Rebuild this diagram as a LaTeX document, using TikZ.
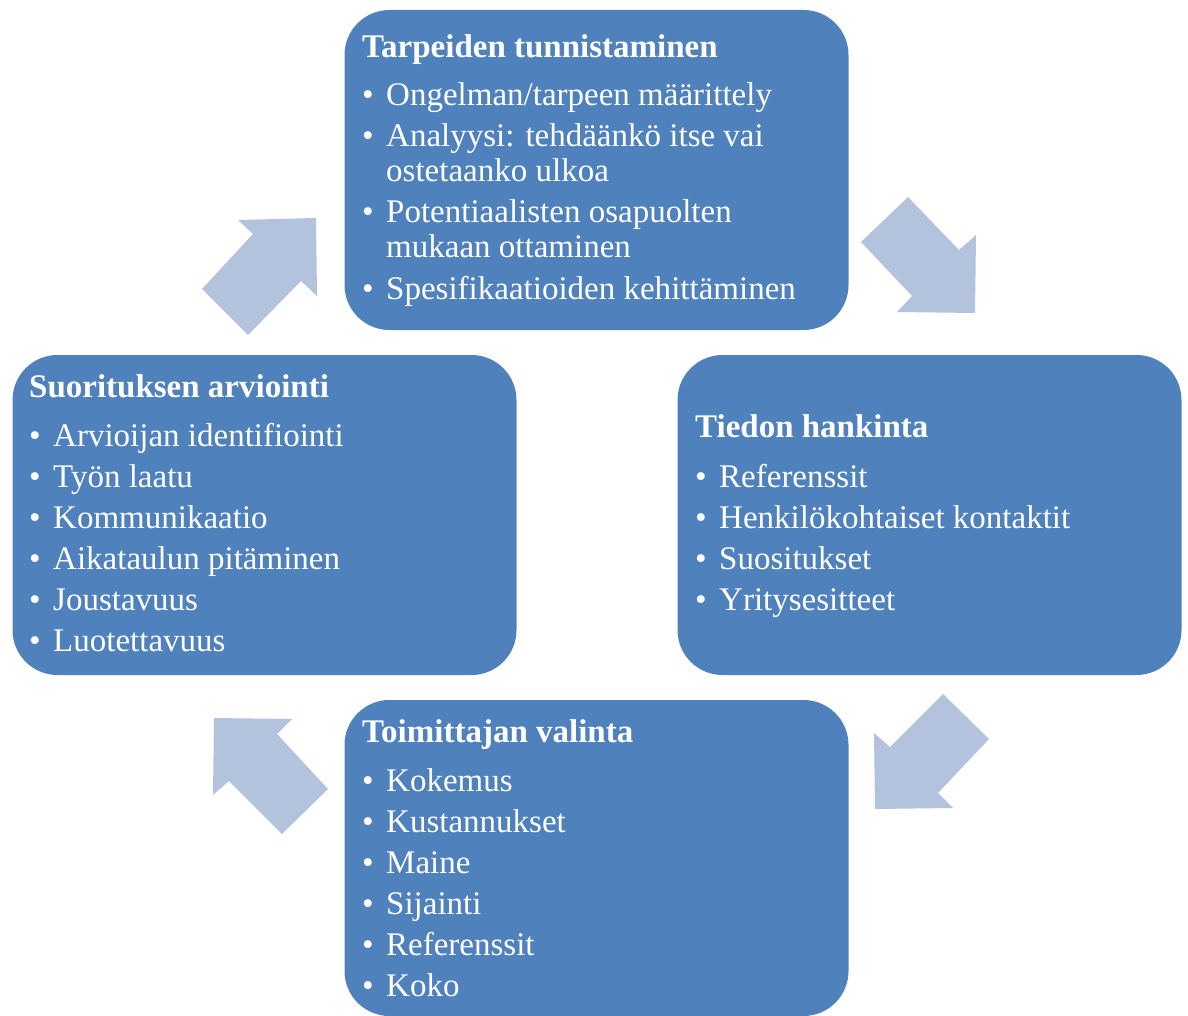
\documentclass[tikz,border=0pt]{standalone}
\usepackage{fontspec}
\setmainfont{Liberation Serif}
\definecolor{boxblue}{RGB}{79,129,189}
\definecolor{arrowblue}{RGB}{179,195,222}
\tikzset{
  stagebox/.style={rectangle, rounded corners=45pt, fill=boxblue, draw=none,
    minimum width=504pt, minimum height=320pt, inner sep=0pt},
  heading/.style={anchor=base west, inner sep=0pt, text=white,
    font=\fontsize{33}{40}\selectfont\bfseries},
  entry/.style={anchor=base west, inner sep=0pt, text=white,
    font=\fontsize{33}{40}\selectfont},
  cyclearrow/.style={fill=arrowblue, draw=none}
}
% bullet item and continuation line
\newcommand\bul[1]{\makebox[24pt][l]{\textbullet}#1}
\newcommand\cont[1]{\hspace*{24pt}#1}
\begin{document}
\begin{tikzpicture}[x=1pt, y=-1pt]
\useasboundingbox (0,0) rectangle (1188,1016);

% stage boxes
\node[stagebox] (need)   at (596.5,170) {};
\node[stagebox] (info)   at (929.5,515) {};
\node[stagebox, minimum height=316pt] (select) at (596.5,858) {};
\node[stagebox] (eval)   at (264.5,515) {};

% cycle arrows
\fill[cyclearrow] (861,242) -- (908,197) -- (959,250) -- (976,235)
  -- (975,313) -- (897,312) -- (912,296) -- cycle;
\fill[cyclearrow] (943,694) -- (989,739) -- (938,793) -- (953,808)
  -- (875,809) -- (874,733) -- (890,747) -- cycle;
\fill[cyclearrow] (328,789) -- (282,834) -- (229,781) -- (213,795)
  -- (214,718) -- (292,719) -- (277,734) -- cycle;
\fill[cyclearrow] (202,289) -- (248,335) -- (301,281) -- (317,296)
  -- (316,218) -- (238,220) -- (253,234) -- cycle;

% Tarpeiden tunnistaminen
\node[heading] (needT) at (362,58) {Tarpeiden tunnistaminen};
\node[entry] (need1) at (362,106) {\bul{Ongelman/tarpeen määrittely}};
\node[entry] (need2) at (362,147) {\bul{Analyysi: tehdäänkö itse vai}};
\node[entry] (need2b) at (362,182) {\cont{ostetaanko ulkoa}};
\node[entry] (need3) at (362,223) {\bul{Potentiaalisten osapuolten}};
\node[entry] (need3b) at (362,258) {\cont{mukaan ottaminen}};
\node[entry] (need4) at (362,299) {\bul{Spesifikaatioiden kehittäminen}};

% Tiedon hankinta
\node[heading] (infoT) at (695,437) {Tiedon hankinta};
\node[entry] (info1) at (695,487) {\bul{Referenssit}};
\node[entry] (info2) at (695,528) {\bul{Henkilökohtaiset kontaktit}};
\node[entry] (info3) at (695,569) {\bul{Suositukset}};
\node[entry] (info4) at (695,610) {\bul{Yritysesitteet}};

% Toimittajan valinta
\node[heading] (selT) at (362,742) {Toimittajan valinta};
\node[entry] (sel1) at (362,791) {\bul{Kokemus}};
\node[entry] (sel2) at (362,832) {\bul{Kustannukset}};
\node[entry] (sel3) at (362,873) {\bul{Maine}};
\node[entry] (sel4) at (362,914) {\bul{Sijainti}};
\node[entry] (sel5) at (362,955) {\bul{Referenssit}};
\node[entry] (sel6) at (362,996) {\bul{Koko}};

% Suorituksen arviointi
\node[heading] (evalT) at (29,397) {Suorituksen arviointi};
\node[entry] (eval1) at (29,446) {\bul{Arvioijan identifiointi}};
\node[entry] (eval2) at (29,487) {\bul{Työn laatu}};
\node[entry] (eval3) at (29,528) {\bul{Kommunikaatio}};
\node[entry] (eval4) at (29,569) {\bul{Aikataulun pitäminen}};
\node[entry] (eval5) at (29,610) {\bul{Joustavuus}};
\node[entry] (eval6) at (29,651) {\bul{Luotettavuus}};
\end{tikzpicture}
\end{document}
